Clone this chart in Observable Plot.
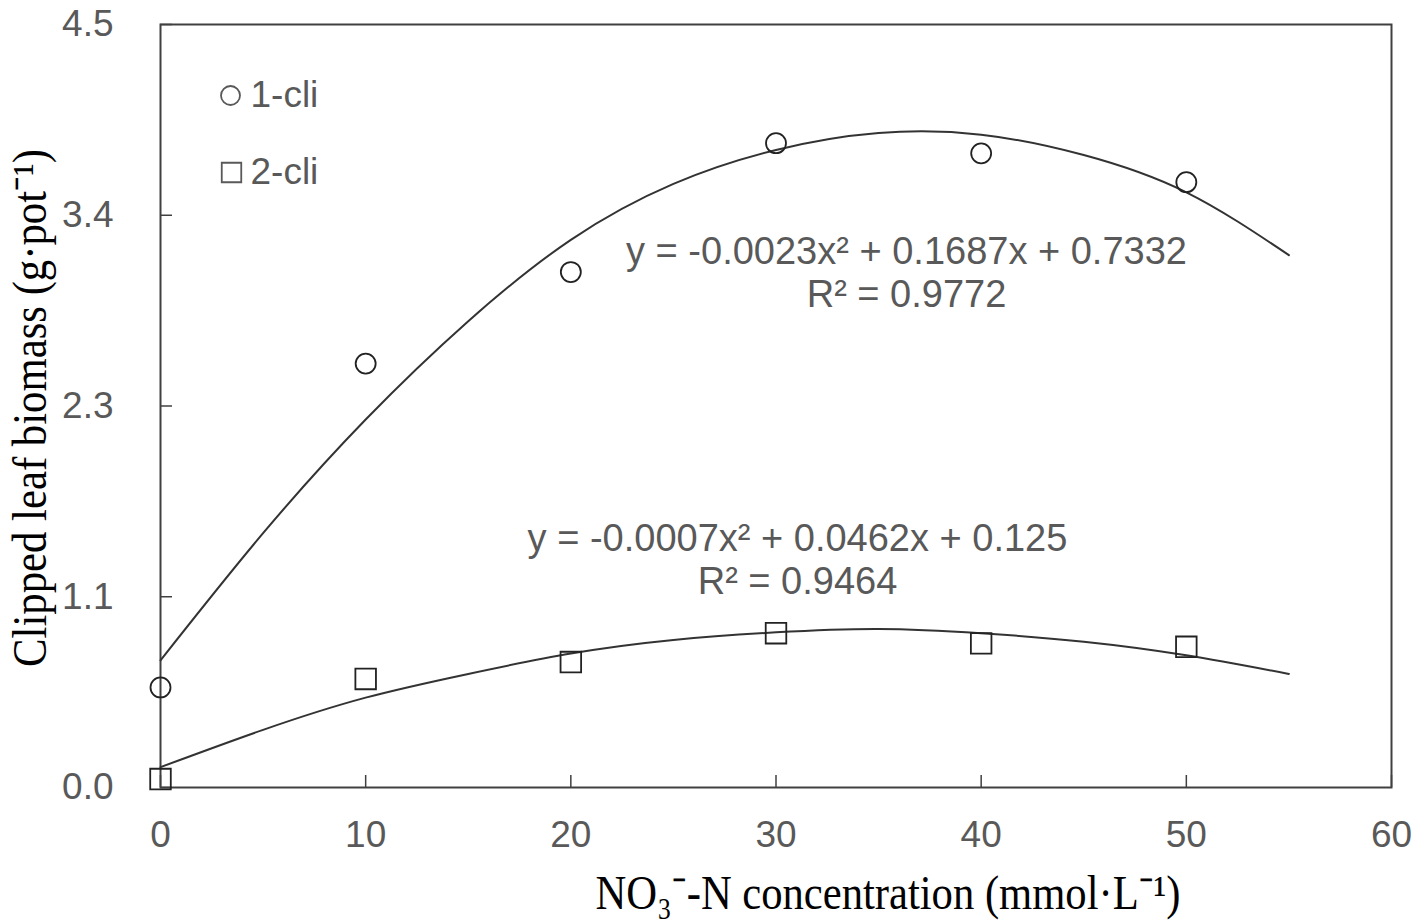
<!DOCTYPE html>
<html>
<head>
<meta charset="utf-8">
<script src="https://cdn.jsdelivr.net/npm/d3@7"></script>
<script src="https://cdn.jsdelivr.net/npm/@observablehq/plot@0.6"></script>
<style>
  html, body { margin: 0; padding: 0; background: #fff; }
  #chart svg { display: block; }
</style>
</head>
<body>
<div id="chart"></div>
<script>
// ---- data ----
const xTicks = [0, 10, 20, 30, 40, 50, 60];
const yTicks = [0, 1.125, 2.25, 3.375, 4.5];
const yTickLabels = ["0.0", "1.1", "2.3", "3.4", "4.5"];

const nitrate = [0, 10, 20, 30, 40, 50];
const oneCli = [0.59, 2.50, 3.04, 3.80, 3.74, 3.57];
const twoCli = [0.05, 0.64, 0.74, 0.91, 0.85, 0.83];

// trend lines
const fitX = [0, 5, 10, 15, 20, 25, 30, 35, 40, 45, 50, 55];
const fitOne = [0.75, 1.50, 2.17, 2.75, 3.23, 3.56, 3.76, 3.86, 3.85, 3.73, 3.51, 3.14];
const fitTwo = [0.12, 0.34, 0.53, 0.67, 0.79, 0.87, 0.915, 0.935, 0.91, 0.86, 0.78, 0.67];

const seriesNames = ["1-cli", "2-cli"];
const eqOne = "y = -0.0023x² + 0.1687x + 0.7332\nR² = 0.9772";
const eqTwo = "y = -0.0007x² + 0.0462x + 0.125\nR² = 0.9464";
const xTitle = "NO₃⁻-N concentration (mmol·L⁻¹)";
const yTitle = "Clipped leaf biomass (g·pot⁻¹)";

// ---- tables ----
const pts1 = nitrate.map((x, i) => ({x, y: oneCli[i]}));
const pts2 = nitrate.map((x, i) => ({x, y: twoCli[i]}));
const line1 = fitX.map((x, i) => ({x, y: fitOne[i]}));
const line2 = fitX.map((x, i) => ({x, y: fitTwo[i]}));

const ink = "#333";
const grey = "#595959";
const sans = "Liberation Sans, Arial, sans-serif";
const serif = "Liberation Serif, Times New Roman, serif";

const chart = Plot.plot({
  width: 1418,
  height: 923,
  marginLeft: 160,
  marginRight: 27,
  marginTop: 24,
  marginBottom: 136,
  style: {background: "#fff", fontFamily: sans, overflow: "visible"},
  x: {domain: [0, 60]},
  y: {domain: [0, 4.5]},
  marks: [
    Plot.frame({stroke: "#404040", strokeWidth: 2}),
    Plot.axisX(xTicks, {
      tickSize: -12, tickPadding: 45, fontSize: 37, fill: grey, stroke: "#404040",
      strokeWidth: 1.5, label: null, tickFormat: d => String(d)
    }),
    Plot.axisY(yTicks, {
      tickSize: -12, tickPadding: 59, fontSize: 37, fill: grey, stroke: "#404040",
      strokeWidth: 1.5, label: null, tickFormat: d => yTickLabels[yTicks.indexOf(d)]
    }),
    Plot.line(line1, {x: "x", y: "y", curve: "natural", stroke: ink, strokeWidth: 2}),
    Plot.line(line2, {x: "x", y: "y", curve: "natural", stroke: ink, strokeWidth: 2}),
    Plot.dot(pts1, {x: "x", y: "y", r: 10, symbol: "circle", stroke: "#222", strokeWidth: 1.8, fill: "none"}),
    Plot.dot(pts2, {x: "x", y: "y", r: 11.6, symbol: "square", stroke: "#222", strokeWidth: 1.8, fill: "none"}),
    // legend
    Plot.dot([seriesNames[0]], {frameAnchor: "top-left", dx: 70, dy: 71, r: 9.5, symbol: "circle", stroke: grey, strokeWidth: 1.8, fill: "none"}),
    Plot.dot([seriesNames[1]], {frameAnchor: "top-left", dx: 71, dy: 148, r: 11, symbol: "square", stroke: grey, strokeWidth: 1.8, fill: "none"}),
    Plot.text([seriesNames[0]], {text: d => d, frameAnchor: "top-left", dx: 90, dy: 71, textAnchor: "start", lineAnchor: "middle", fontSize: 37, fill: grey, fontFamily: sans}),
    Plot.text([seriesNames[1]], {text: d => d, frameAnchor: "top-left", dx: 90, dy: 148, textAnchor: "start", lineAnchor: "middle", fontSize: 37, fill: grey, fontFamily: sans}),
    // equations
    Plot.text([eqOne], {text: d => d, frameAnchor: "top-left", dx: 746, dy: 247, textAnchor: "middle", lineAnchor: "middle", lineHeight: 1.14, fontSize: 38, fill: grey, fontFamily: sans}),
    Plot.text([eqTwo], {text: d => d, frameAnchor: "top-left", dx: 637, dy: 534, textAnchor: "middle", lineAnchor: "middle", lineHeight: 1.14, fontSize: 38, fill: grey, fontFamily: sans}),
    // axis titles
    Plot.text([xTitle], {text: d => d, frameAnchor: "bottom", dx: 112, dy: 106, textAnchor: "middle", lineAnchor: "middle", fontSize: 49, fill: "#000", fontFamily: serif}),
    Plot.text([yTitle], {text: d => d, frameAnchor: "left", dx: -130, dy: 2, rotate: -90, textAnchor: "middle", lineAnchor: "middle", fontSize: 49, fill: "#000", fontFamily: serif})
  ]
});

document.getElementById("chart").appendChild(chart);

// condense the serif axis titles like the reference
const svg = d3.select(chart);
svg.selectAll("text").filter(function () { return this.textContent === xTitle; })
  .attr("textLength", 585).attr("lengthAdjust", "spacingAndGlyphs");
svg.selectAll("text").filter(function () { return this.textContent === yTitle; })
  .attr("textLength", 518).attr("lengthAdjust", "spacingAndGlyphs");
</script>
</body>
</html>
